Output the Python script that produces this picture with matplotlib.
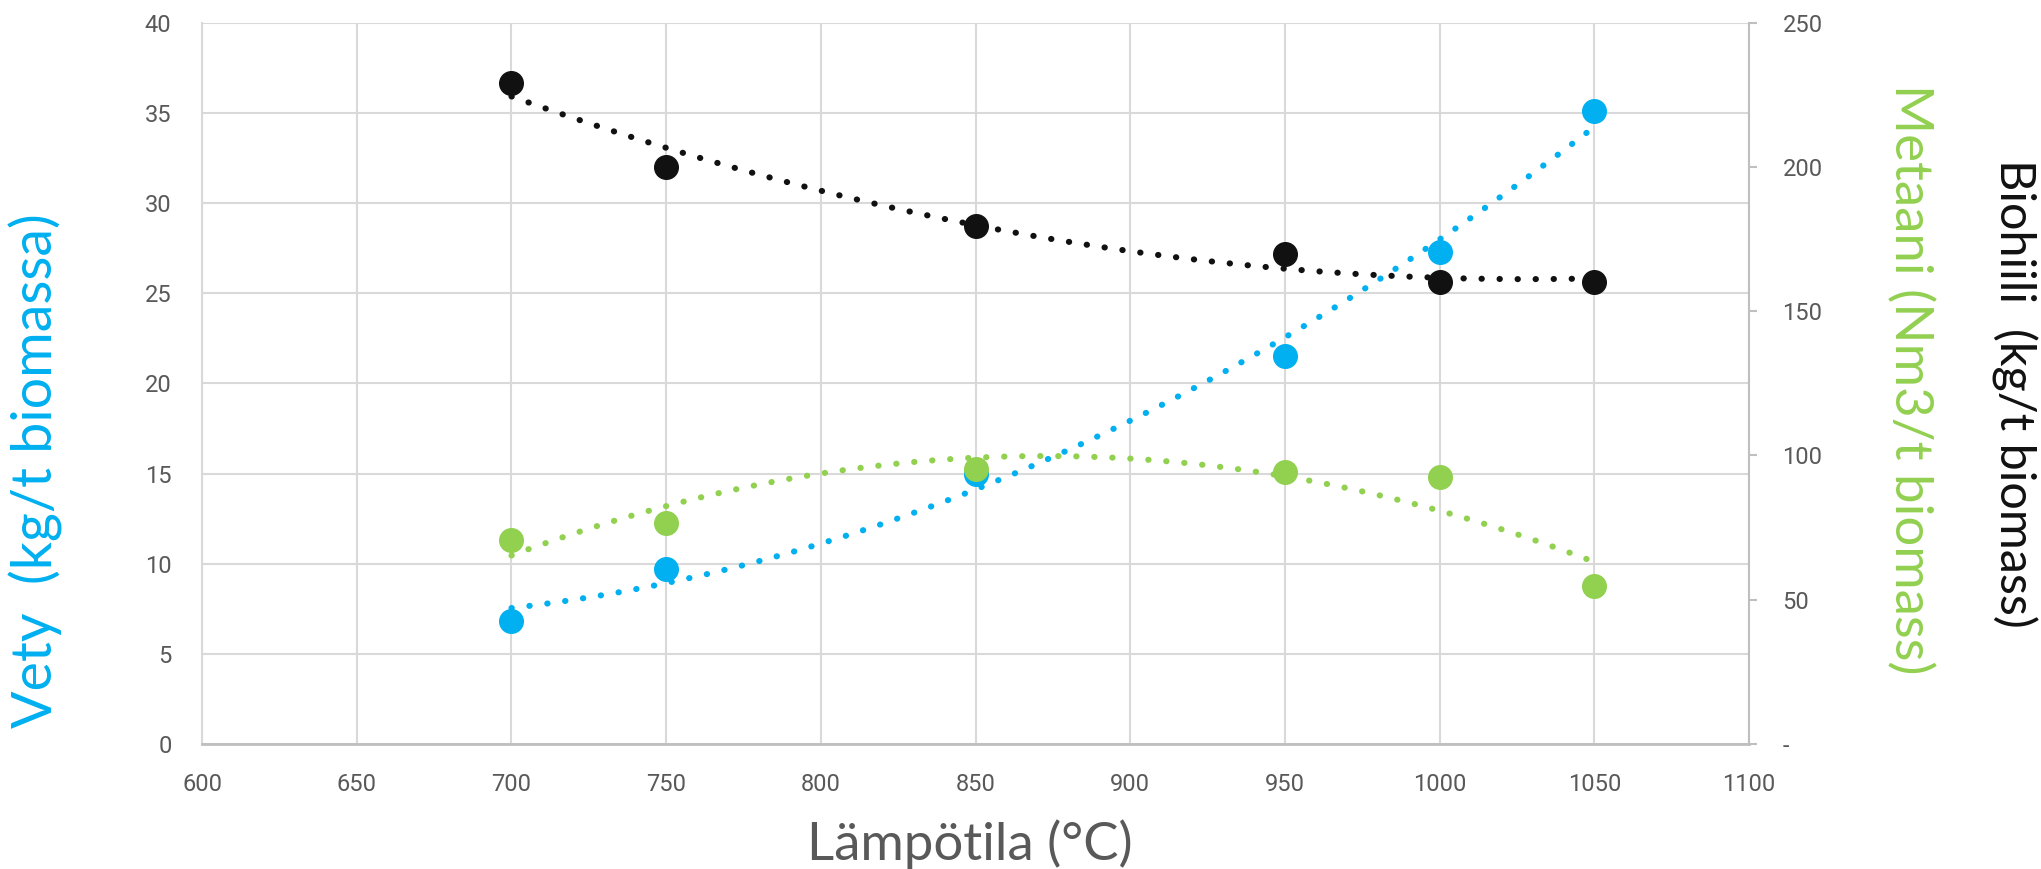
import matplotlib.pyplot as plt
import numpy as np

# data
temps = [700, 750, 850, 950, 1000, 1050]
vety = [6.8, 9.7, 14.95, 21.5, 27.3, 35.1]          # kg/t biomassa (left axis)
biohiili = [229, 200, 179.6, 169.8, 160.2, 160.0]   # kg/t biomass (right axis)
metaani = [70.7, 76.5, 95.2, 94.3, 92.4, 54.7]      # Nm3/t biomass (right axis)

x_ticks = list(range(600, 1101, 50))
left_ticks = list(range(0, 41, 5))
right_ticks = list(range(0, 251, 50))

BLUE = '#00B0F0'
GREEN = '#92D050'
BLACK = '#111111'
GRID = '#D9D9D9'
TXT = '#595959'

tick_font = ['Liberation Sans Narrow', 'Roboto', 'DejaVu Sans']
title_font = ['Lato', 'DejaVu Sans']


def trend(ax, xs, ys, color):
    # 2nd order polynomial trendline like the Excel one
    coef = np.polyfit(xs, ys, 2)
    xx = np.linspace(min(xs), max(xs), 200)
    ax.plot(xx, np.polyval(coef, xx), color=color, lw=4.4,
            linestyle=(0, (0.05, 2.9)), dash_capstyle='round', zorder=2)


fig = plt.figure(figsize=(20.41, 8.69), dpi=100)
ax = fig.add_axes([0.099, 0.1438, 0.758, 0.8301])
ax2 = ax.twinx()

ax.set_xlim(600, 1100)
ax.set_ylim(0, 40)
ax2.set_ylim(0, 250)
ax.set_xticks(x_ticks)
ax.set_yticks(left_ticks)
ax2.set_yticks(right_ticks)
ax2.set_yticklabels(['-'] + [str(v) for v in right_ticks[1:]])

ax.grid(True, color=GRID, lw=1.5)
ax.set_axisbelow(True)

for a in (ax, ax2):
    for s in a.spines.values():
        s.set_visible(False)
ax.spines['left'].set_visible(True)
ax.spines['left'].set_color(GRID)
ax.spines['left'].set_linewidth(1.5)
ax.spines['bottom'].set_visible(True)
ax.spines['bottom'].set_color('#BFBFBF')
ax.spines['bottom'].set_linewidth(2)
ax2.spines['right'].set_visible(True)
ax2.spines['right'].set_color('#BFBFBF')
ax2.spines['right'].set_linewidth(1.5)

ax.tick_params(axis='y', length=0, pad=22, labelsize=17, labelcolor=TXT)
ax.tick_params(axis='x', length=0, pad=21, labelsize=17, labelcolor=TXT)
ax2.tick_params(axis='y', length=6, width=1.5, color='#BFBFBF', pad=18,
                labelsize=17, labelcolor=TXT)
for lab in ax.get_xticklabels() + ax.get_yticklabels() + ax2.get_yticklabels():
    lab.set_fontfamily(tick_font)

# series + trendlines
trend(ax, temps, vety, BLUE)
ax.plot(temps, vety, 'o', color=BLUE, ms=17, zorder=3)
trend(ax2, temps, metaani, GREEN)
ax2.plot(temps, metaani, 'o', color=GREEN, ms=17, zorder=3)
trend(ax2, temps, biohiili, BLACK)
ax2.plot(temps, biohiili, 'o', color=BLACK, ms=17, zorder=3)

# axis titles
fig.text(0.0178, 0.458, 'Vety  (kg/t biomassa)', rotation=90, color=BLUE,
         fontsize=40, family=title_font, ha='center', va='center')
fig.text(0.936, 0.564, 'Metaani (Nm3/t biomass)', rotation=270, color=GREEN,
         fontsize=38, family=title_font, ha='center', va='center')
fig.text(0.987, 0.547, 'Biohiili  (kg/t biomass)', rotation=270, color=BLACK,
         fontsize=35, family=title_font, ha='center', va='center')
fig.text(0.475, 0.029, 'Lämpötila (°C)', color=TXT,
         fontsize=38, family=title_font, ha='center', va='center')

plt.savefig('out.png', dpi=100)
